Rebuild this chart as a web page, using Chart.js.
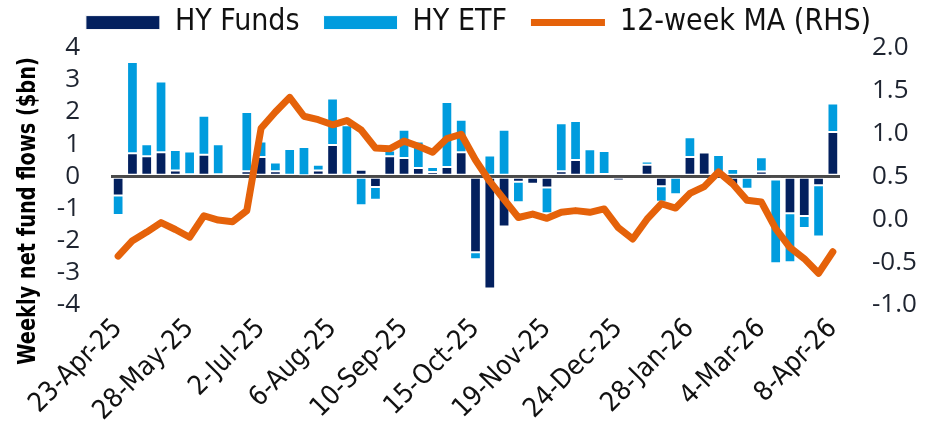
<!DOCTYPE html>
<html>
<head>
<meta charset="utf-8">
<script src="https://cdn.jsdelivr.net/npm/chart.js@4.4.1/dist/chart.umd.min.js"></script>
<style>
  html, body { margin: 0; padding: 0; background: #fff; }
  #wrap { width: 925px; height: 428px; }
</style>
</head>
<body>
<div id="wrap"><canvas id="chart" width="925" height="428"></canvas></div>
<script>
// weekly dates, 23-Apr-25 .. 8-Apr-26
const weeks = [
  '23-Apr-25','30-Apr-25','7-May-25','14-May-25','21-May-25',
  '28-May-25','4-Jun-25','11-Jun-25','18-Jun-25','25-Jun-25',
  '2-Jul-25','9-Jul-25','16-Jul-25','23-Jul-25','30-Jul-25',
  '6-Aug-25','13-Aug-25','20-Aug-25','27-Aug-25','3-Sep-25',
  '10-Sep-25','17-Sep-25','24-Sep-25','1-Oct-25','8-Oct-25',
  '15-Oct-25','22-Oct-25','29-Oct-25','5-Nov-25','12-Nov-25',
  '19-Nov-25','26-Nov-25','3-Dec-25','10-Dec-25','17-Dec-25',
  '24-Dec-25','31-Dec-25','7-Jan-26','14-Jan-26','21-Jan-26',
  '28-Jan-26','4-Feb-26','11-Feb-26','18-Feb-26','25-Feb-26',
  '4-Mar-26','11-Mar-26','18-Mar-26','25-Mar-26','1-Apr-26',
  '8-Apr-26'
];

// $bn
const hyFunds = [
  -0.6, 0.72, 0.62, 0.75, 0.18, 0.06, 0.67, 0.06, 0, 0.16,
  0.6, 0.16, 0, 0.03, 0.18, 0.97, 0, 0.2, -0.33, 0.62,
  0.57, 0.26, 0.13, 0.29, 0.75, -2.36, -3.49, -1.56, -0.17, -0.23,
  -0.35, 0.16, 0.51, 0, 0.07, -0.13, 0.08, 0.36, -0.31, 0,
  0.6, 0.74, 0, -0.3, 0.08, 0.15, -0.1, -1.15, -1.23, -0.28,
  1.38
];
const hyETF = [
  -0.6, 2.83, 0.38, 2.2, 0.64, 0.71, 1.21, 0.94, 0.08, 1.84,
  0.48, 0.27, 0.85, 0.88, 0.18, 1.45, 1.59, -0.9, -0.4, 0.18,
  0.88, 0.82, 0.16, 2.02, 1.01, -0.22, 0.65, 1.45, -0.64, -0.02,
  -0.8, 1.49, 1.21, 0.84, 0.72, 0, 0, 0.1, -0.48, -0.56,
  0.61, 0, 0.66, 0.23, -0.39, 0.44, -2.6, -1.52, -0.38, -1.59,
  0.88
];
// 12-week moving average, right axis
const ma12 = [
  -0.43, -0.25, -0.15, -0.04, -0.12, -0.21, 0.04, -0.01, -0.03, 0.1,
  1.06, 1.25, 1.42, 1.2, 1.16, 1.1, 1.15, 1.04, 0.83, 0.82,
  0.91, 0.85, 0.78, 0.94, 0.99, 0.69, 0.44, 0.23, 0.02, 0.06,
  0.01, 0.08, 0.1, 0.08, 0.12, -0.1, -0.23, 0.0, 0.18, 0.13,
  0.3, 0.38, 0.55, 0.41, 0.22, 0.2, -0.11, -0.33, -0.46, -0.63,
  -0.38
];

const NAVY = '#03205e';
const BLUE = '#009cde';
const ORANGE = '#e5620a';
const COND = '"DejaVu Sans Condensed", "Liberation Sans Narrow", sans-serif';
const TICKFONT = '"Open Sans", sans-serif';

// rotated y-axis title, centred a bit below the plot middle like the original
const yTitle = {
  id: 'yTitle',
  afterDraw(chart) {
    const c = chart.ctx;
    c.save();
    c.translate(28, 211);
    c.rotate(-Math.PI / 2);
    c.scale(0.86, 1); // squeeze along the text, the original is a narrow bold face
    c.font = 'bold 25px ' + COND;
    c.fillStyle = '#000';
    c.textAlign = 'center';
    c.textBaseline = 'middle';
    c.fillText('Weekly net fund flows ($bn)', 0, 0);
    c.restore();
  }
};

const barStyle = {
  type: 'bar',
  yAxisID: 'y',
  stack: 's',
  borderColor: '#fff',
  borderWidth: 1,
  borderSkipped: false,
  barPercentage: 0.75,
  categoryPercentage: 1,
  pointStyle: 'rect',
  order: 1
};

new Chart(document.getElementById('chart'), {
  data: {
    labels: weeks,
    datasets: [
      Object.assign({ label: 'HY Funds', data: hyFunds, backgroundColor: NAVY }, barStyle),
      Object.assign({ label: 'HY ETF', data: hyETF, backgroundColor: BLUE }, barStyle),
      {
        type: 'line',
        label: '12-week MA (RHS)',
        data: ma12,
        yAxisID: 'y2',
        borderColor: ORANGE,
        backgroundColor: ORANGE,
        borderWidth: 7,
        borderJoinStyle: 'round',
        borderCapStyle: 'round',
        pointRadius: 0,
        pointStyle: 'line',
        tension: 0,
        order: 0
      }
    ]
  },
  options: {
    responsive: false,
    animation: false,
    // left padding only shifts the legend centre; the y axis width absorbs it
    layout: { padding: { left: 32, right: 0, top: -18, bottom: 0 } },
    plugins: {
      legend: {
        display: true,
        position: 'top',
        labels: {
          font: { family: COND, size: 30 },
          color: '#111',
          usePointStyle: true,
          pointStyleWidth: 74,
          boxHeight: 14,
          padding: 24,
          sort: (a, b) => a.datasetIndex - b.datasetIndex
        }
      },
      tooltip: { enabled: false },
      title: { display: false }
    },
    scales: {
      x: {
        offset: true,
        grid: { display: false, drawTicks: false },
        border: { display: false },
        afterFit: (s) => { s.height = 123; },
        ticks: {
          autoSkip: false,
          maxRotation: 45,
          minRotation: 45,
          padding: 8,
          color: '#111',
          font: { family: COND, size: 27 },
          callback: function (v, i) { return i % 5 === 0 ? weeks[i] : ''; }
        }
      },
      y: {
        position: 'left',
        min: -4,
        max: 4,
        stacked: true,
        afterFit: (s) => { s.width = 79; },
        ticks: { stepSize: 1, autoSkip: false, color: '#1e2430', padding: 31, font: { family: TICKFONT, size: 26 } },
        grid: {
          drawTicks: false,
          lineWidth: 3,
          color: (ctx) => ctx.tick && ctx.tick.value === 0 ? '#4a4a4a' : 'rgba(0,0,0,0)'
        },
        border: { display: false }
      },
      y2: {
        position: 'right',
        min: -1,
        max: 2,
        afterFit: (s) => { s.width = 85; },
        ticks: {
          stepSize: 0.5, autoSkip: false, color: '#1e2430', padding: 32,
          font: { family: TICKFONT, size: 26 },
          callback: (v) => v.toFixed(1)
        },
        grid: { display: false, drawTicks: false },
        border: { display: false }
      }
    }
  },
  plugins: [yTitle]
});
</script>
</body>
</html>
